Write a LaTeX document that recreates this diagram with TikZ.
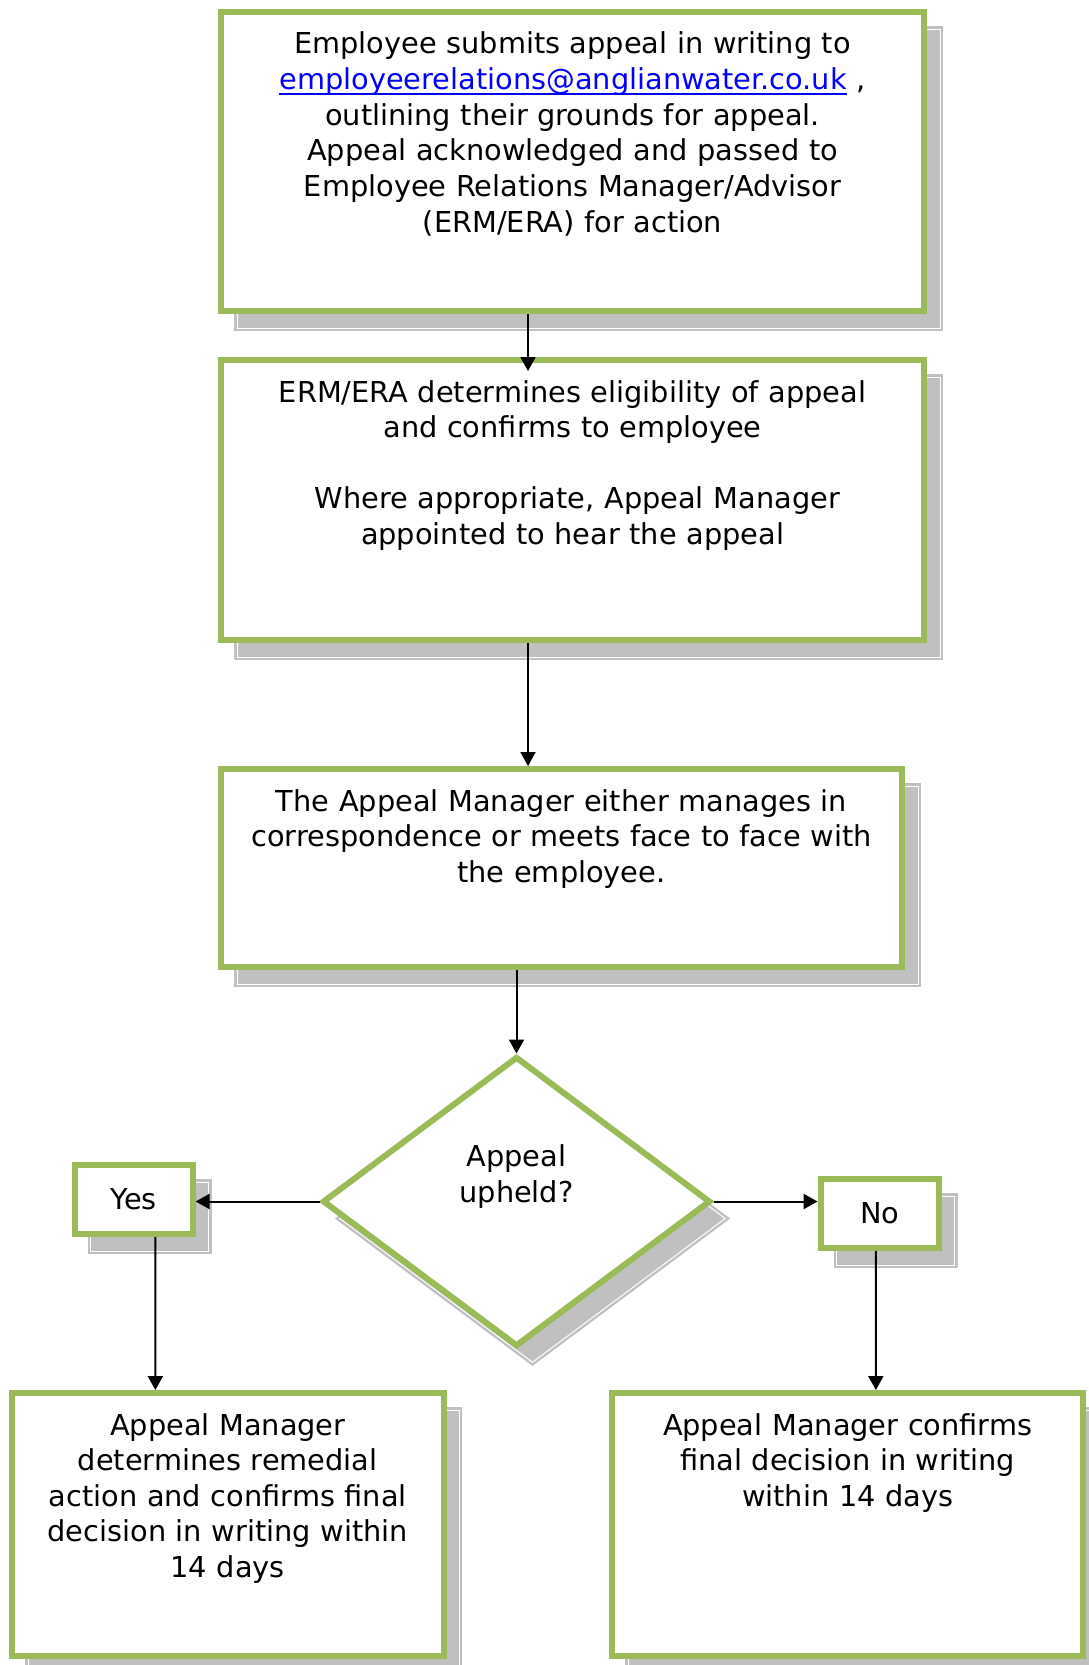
\documentclass[tikz,border=0pt]{standalone}
\usepackage{fontspec}
\setmainfont{DejaVu Sans}
\usetikzlibrary{shapes.geometric,shadows,arrows.meta}
\definecolor{apgreen}{HTML}{9BBB59}
\definecolor{shadegray}{HTML}{C0C0C0}
\definecolor{linkblue}{HTML}{0000FF}
\newcommand{\maillink}[1]{\leavevmode\setbox0\hbox{\textcolor{linkblue}{#1}}%
  \rlap{\textcolor{linkblue}{\rule[-2.6pt]{\wd0}{0.65pt}}}\box0}

\begin{document}
\begin{tikzpicture}[x=0.5pt, y=-0.5pt,
    greyshadow/.style={drop shadow={shadow xshift=8pt, shadow yshift=-8.5pt,
                 fill=shadegray, draw=shadegray, double=white, line width=1.2pt,
                 double distance=0.5pt, opacity=1}},
    proc/.style={draw=apgreen, line width=3pt, fill=white, align=center,
                 inner xsep=6pt, inner ysep=6pt, text height=15pt, greyshadow,
                 font=\fontsize{14.4pt}{17.8pt}\selectfont},
    decision/.style={diamond, draw=apgreen, line width=3pt, fill=white, align=center,
                 inner sep=0pt, greyshadow, font=\fontsize{14.4pt}{17.8pt}\selectfont},
    answer/.style={draw=apgreen, line width=3pt, fill=white, inner sep=0pt,
                 minimum width=59pt, minimum height=34.5pt, greyshadow,
                 font=\fontsize{14.4pt}{17.8pt}\selectfont},
    arr/.style={-{Triangle[length=7pt,width=7.5pt]}, line width=1pt}
]
\useasboundingbox (0,0) rectangle (1088,1665);

\node[proc, text width=339.5pt, text depth=122.5pt] (b1) at (572.5,161.5)
  {Employee submits appeal in writing to\\
   \maillink{employeerelations@anglianwater.co.uk}\ ,\\
   outlining their grounds for appeal.\\
   Appeal acknowledged and passed to\\
   Employee Relations Manager/Advisor\\
   (ERM/ERA) for action};
\node[proc, text width=339.5pt, text depth=113pt] (b2) at (572.5,500)
  {ERM/ERA determines eligibility of appeal\\
   and confirms to employee\\[17.8pt]
   ~Where appropriate, Appeal Manager\\
   appointed to hear the appeal};
\node[proc, text width=328.5pt, text depth=72pt] (b3) at (561.5,868)
  {The Appeal Manager either manages in\\
   correspondence or meets face to face with\\
   the employee.};
\node[decision, minimum width=194pt, minimum height=145pt, text width=70pt,
      text height=11pt, text depth=46pt] (dia) at (516.5,1201.5) {Appeal\\upheld?};
\node[answer] (yes) at (133.6,1199.5) {Yes};
\node[answer] (no) at (879.6,1213.5) {No};
\node[proc, text width=203.75pt, text depth=104.25pt] (b4) at (227.75,1524.25)
  {Appeal Manager\\
   determines remedial\\
   action and confirms final\\
   decision in writing within\\
   14 days};
\node[proc, text width=223.35pt, text depth=104.25pt] (b5) at (847.65,1524.25)
  {Appeal Manager confirms\\
   final decision in writing\\
   within 14 days};

\draw[arr, shorten >=-7pt] ([xshift=-22.25pt]b1.south) -- ([xshift=-22.25pt]b2.north);
\draw[arr] ([xshift=-22.25pt]b2.south) -- ([xshift=-16.75pt]b3.north);
\draw[arr] (b3.south -| dia.north) -- (dia.north);
\draw[arr] (dia.west) -- (dia.west -| yes.east);
\draw[arr] (dia.east) -- (dia.east -| no.west);
\draw[arr] ([xshift=10.9pt]yes.south) -- ([xshift=-36.2pt]b4.north);
\draw[arr] ([xshift=-1.9pt]no.south) -- ([xshift=14.1pt]b5.north);
\end{tikzpicture}
\end{document}
